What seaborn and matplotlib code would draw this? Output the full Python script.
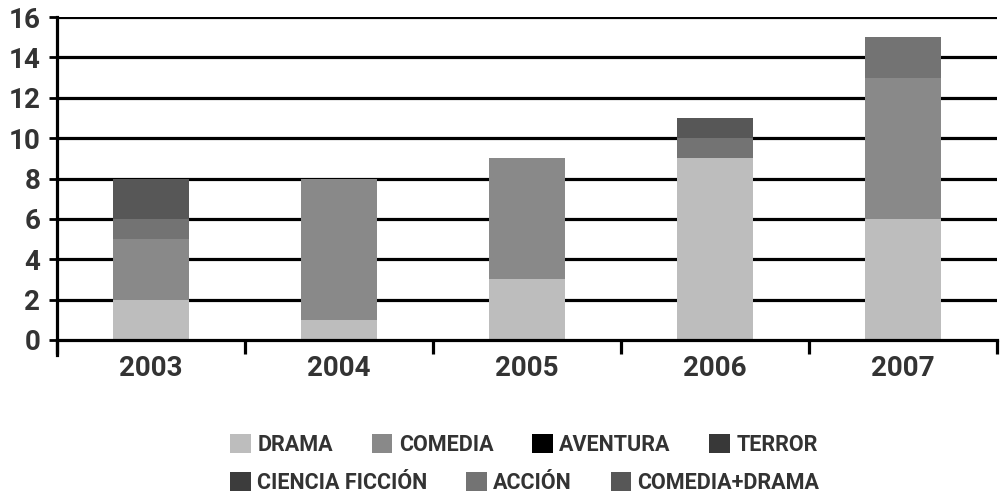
import matplotlib
matplotlib.use("Agg")
import matplotlib.pyplot as plt
from matplotlib.patches import Patch
import numpy as np
import seaborn as sns

years = ["2003", "2004", "2005", "2006", "2007"]
series_names = ["DRAMA", "COMEDIA", "AVENTURA", "TERROR", "CIENCIA FICCIÓN", "ACCIÓN", "COMEDIA+DRAMA"]
drama = [2, 1, 3, 9, 6]
comedia = [3, 7, 6, 0, 7]
aventura = [0, 0, 0, 0, 0]
terror = [0, 0, 0, 0, 0]
ciencia_ficcion = [0, 0, 0, 0, 0]
accion = [1, 0, 0, 1, 2]
comedia_drama = [2, 0, 0, 1, 0]
yticks = [0, 2, 4, 6, 8, 10, 12, 14, 16]

colors = ["#bdbdbd", "#898989", "#000000", "#383838", "#3c3c3c", "#737373", "#575757"]
series = [drama, comedia, aventura, terror, ciencia_ficcion, accion, comedia_drama]

sns.set_style("white")
plt.rcParams['font.family'] = ['Roboto', 'DejaVu Sans']
txt = "#333333"

fig = plt.figure(figsize=(10.04, 4.93), dpi=100)
ax = fig.add_axes([57 / 1004, 1 - 340 / 493, 940 / 1004, 323 / 493])

cum = np.cumsum(np.array(series), axis=0)
for i in range(len(series) - 1, -1, -1):
    sns.barplot(x=years, y=cum[i], order=years, color=colors[i], width=0.4,
                saturation=1, ax=ax, zorder=3, linewidth=0)

ax.set_ylim(0, 16)
ax.set_xlim(-0.5, 4.5)
ax.set_yticks(yticks)
ax.set_yticklabels([str(v) for v in yticks])
ax.set_xticks(range(len(years)))
ax.set_xticklabels(years)
ax.set_xticks(np.arange(-0.5, 5.0, 1.0), minor=True)
ax.set_xlabel("")
ax.set_ylabel("")

ax.grid(False)
for v in yticks[1:]:
    ax.axhline(v, color="black", lw=2.3, zorder=1)

for s in ["top", "right"]:
    ax.spines[s].set_visible(False)
ax.spines["bottom"].set_color("black")
ax.spines["bottom"].set_linewidth(2.3)
ax.spines["bottom"].set_zorder(4)
ax.spines["left"].set_color("black")
ax.spines["left"].set_linewidth(2.3)
ax.spines["left"].set_bounds(-0.75, 16)

ax.tick_params(axis="y", which="major", direction="out", length=6, width=2, color="black",
               labelsize=20, labelcolor=txt, pad=6, left=True)
ax.tick_params(axis="x", which="major", length=0, labelsize=20, labelcolor=txt, pad=11, bottom=True)
ax.tick_params(axis="x", which="minor", direction="out", length=10, width=2.3, color="black", bottom=True)
for lab in ax.get_xticklabels() + ax.get_yticklabels():
    lab.set_fontweight("bold")

handles = [Patch(facecolor=c, edgecolor="none") for c in colors]
leg_kw = dict(frameon=False, handlelength=0.95, handleheight=0.95, handletextpad=0.3,
              columnspacing=1.8, loc="center",
              prop={"size": 15.5, "weight": "bold"})
l1 = fig.legend(handles[:4], series_names[:4], ncol=4,
                bbox_to_anchor=(524 / 1004, 1 - 445 / 493), **leg_kw)
l2 = fig.legend(handles[4:], series_names[4:], ncol=3,
                bbox_to_anchor=(525 / 1004, 1 - 483 / 493), **leg_kw)
for l in (l1, l2):
    for t in l.get_texts():
        t.set_color(txt)

fig.savefig("out.png", dpi=100)
